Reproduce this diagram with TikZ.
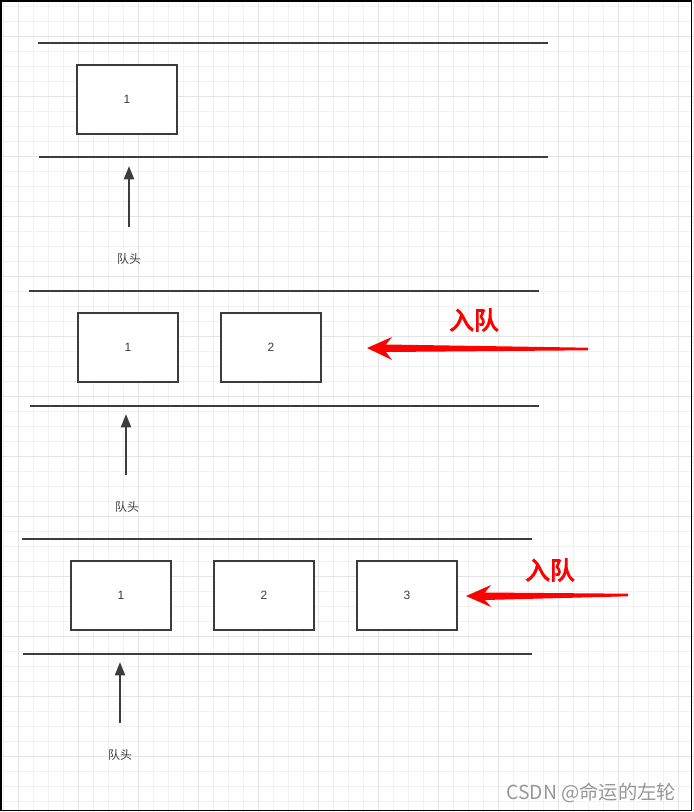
\documentclass[tikz,border=0pt]{standalone}
\usepackage{fontspec}
\setmainfont{Liberation Sans}
\newfontfamily\cjk{Noto Sans CJK SC}
\newfontfamily\cjkb[FakeBold=4]{Noto Sans CJK SC}
\usetikzlibrary{arrows.meta,calc}
\definecolor{gridminor}{RGB}{242,242,242}
\definecolor{gridmajor}{RGB}{228,228,228}
\definecolor{ink}{RGB}{60,60,60}
\definecolor{wm}{RGB}{150,150,150}
\tikzset{
  x=0.75pt, y=-0.75pt,
  rail/.style={draw=ink, line width=1.6pt},
  cell/.style={draw=ink, line width=1.6pt, fill=white, minimum width=75pt, minimum height=51.75pt, inner sep=0pt, font=\fontsize{9}{10}\selectfont, text=ink},
  headarrow/.style={draw=ink, line width=1.5pt, -{Triangle[length=10pt, width=7.5pt]}},
  headlabel/.style={font=\cjk\fontsize{9}{10}\selectfont, text=ink},
  enqlabel/.style={font=\cjkb\fontsize{18.5}{20}\selectfont, text=red},
}
\begin{document}
\begin{tikzpicture}
\useasboundingbox (0,0) rectangle (693,812);
% grid
\foreach \i in {0,...,46} {
  \draw[gridminor, line width=0.75pt] ({3.3+15*\i},0) -- ({3.3+15*\i},812);
}
\foreach \j in {0,...,54} {
  \draw[gridminor, line width=0.75pt] (0,{6.7+15*\j}) -- (693,{6.7+15*\j});
}
\foreach \i in {0,...,11} {
  \draw[gridmajor, line width=0.75pt] ({18.3+60*\i},0) -- ({18.3+60*\i},812);
}
\foreach \j in {0,...,13} {
  \draw[gridmajor, line width=0.75pt] (0,{36.7+60*\j}) -- (693,{36.7+60*\j});
}
% border
\draw[black, line width=1.2pt] (0.8,0.8) rectangle (691.6,810.6);

% ---------- section 1 ----------
\coordinate (r1a) at (38,43);  \coordinate (r1b) at (548,43);
\coordinate (r1c) at (39,157); \coordinate (r1d) at (548,157);
\draw[rail] (r1a) -- (r1b);
\draw[rail] (r1c) -- (r1d);
\node[cell] (a1) at (127,99.5) {1};
\node[headlabel] (h1) at (129,259) {队头};
\coordinate (h1s) at (129,227);
\coordinate (h1e) at (129,166);
\draw[headarrow] (h1s) -- (h1e);

% ---------- section 2 ----------
\coordinate (r2a) at (29,291);  \coordinate (r2b) at (539,291);
\coordinate (r2c) at (30,406); \coordinate (r2d) at (539,406);
\draw[rail] (r2a) -- (r2b);
\draw[rail] (r2c) -- (r2d);
\node[cell] (b1) at (128,347.5) {1};
\node[cell] (b2) at (271,347.5) {2};
\node[headlabel] (h2) at (127,507) {队头};
\coordinate (h2s) at (126,475);
\coordinate (h2e) at (126,414);
\draw[headarrow] (h2s) -- (h2e);
\node[enqlabel] (e2) at (474,320) {入队};
\coordinate (t2) at (588,349);
\coordinate (p2) at (367,348);
\fill[red] ($(t2)+(0,-1.3)$) -- (386,344.5) -- (392,337) -- (p2) -- (392,360) -- (386,352) -- ($(t2)+(0,1.3)$) -- cycle;

% ---------- section 3 ----------
\coordinate (r3a) at (22,539);  \coordinate (r3b) at (532,539);
\coordinate (r3c) at (23,654); \coordinate (r3d) at (532,654);
\draw[rail] (r3a) -- (r3b);
\draw[rail] (r3c) -- (r3d);
\node[cell] (c1) at (121,595.5) {1};
\node[cell] (c2) at (264,595.5) {2};
\node[cell] (c3) at (407,595.5) {3};
\node[headlabel] (h3) at (120,755) {队头};
\coordinate (h3s) at (120,723);
\coordinate (h3e) at (120,662);
\draw[headarrow] (h3s) -- (h3e);
\node[enqlabel] (e3) at (550,570) {入队};
\coordinate (t3) at (628,595);
\coordinate (p3) at (466,596);
\fill[red] ($(t3)+(0,-1.3)$) -- (485,592.5) -- (491,585) -- (p3) -- (491,607) -- (485,600) -- ($(t3)+(0,1.3)$) -- cycle;

% watermark
\node[font=\cjk\fontsize{14.5}{16}\selectfont, text=wm, anchor=east] (wmk) at (681,793) {CSDN @命运的左轮};
\end{tikzpicture}
\end{document}
